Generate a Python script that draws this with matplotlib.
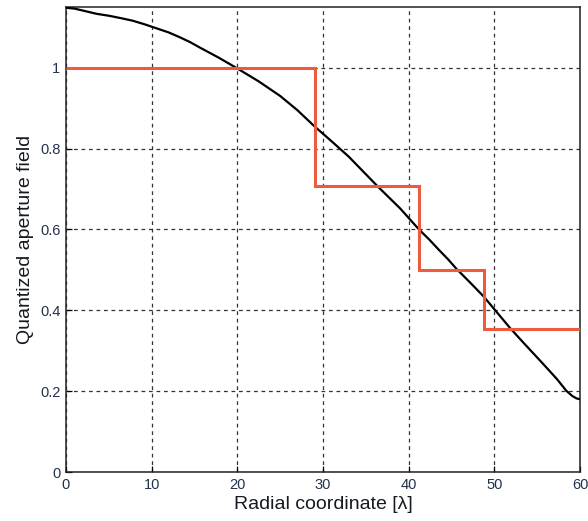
import matplotlib

matplotlib.use("Agg")
import matplotlib.pyplot as plt

# Continuous aperture field
radius = [0, 1.0, 2.0, 3.6, 5.1, 6.5, 7.8, 9.2, 10.6, 12.0, 13.3, 14.5,
          15.6, 17.8, 20, 22.5, 25, 27, 29, 31, 33, 34.7, 36.4, 37.7,
          39, 40.1, 41.2, 42.4, 43.5, 44.6, 45.6, 47.2, 48.8, 50.3, 51.8,
          53, 54, 55.1, 56.1, 57.3, 58.4, 59.1, 59.6, 60]
field = [1.148, 1.146, 1.141, 1.133, 1.128, 1.122, 1.116, 1.107, 1.097,
         1.087, 1.075, 1.063, 1.050, 1.025, 0.998, 0.966, 0.930, 0.895,
         0.855, 0.818, 0.780, 0.743, 0.706, 0.679, 0.652, 0.626, 0.600,
         0.575, 0.550, 0.526, 0.502, 0.468, 0.433, 0.395, 0.357, 0.329,
         0.306, 0.281, 0.258, 0.230, 0.201, 0.188, 0.182, 0.180]

# Quantized (stepped) field: zone edges and levels
step_edges = [0, 29.05, 41.2, 48.8, 60]
step_levels = [1.0, 0.707, 0.5, 0.354]

xticks = [0, 10, 20, 30, 40, 50, 60]
yticks = [0, 0.2, 0.4, 0.6, 0.8, 1.0]
ytick_labels = ["0", "0.2", "0.4", "0.6", "0.8", "1"]

RED = "#ee5a3c"
TICK = "#223248"
TEXT = "#151a22"

plt.rcParams["font.family"] = ["Liberation Sans", "DejaVu Sans"]

fig = plt.figure(figsize=(5.88, 5.21), dpi=100)
ax = fig.add_axes([0.1122, 0.094, 0.8742, 0.8926])

ax.plot(radius, field, color="black", lw=1.6, zorder=3)
ax.stairs(step_levels, step_edges, color=RED, lw=2.2, baseline=None, zorder=4)

ax.set_xlim(0, 60)
ax.set_ylim(0, 1.15)
ax.set_xticks(xticks)
ax.set_yticks(yticks)
ax.set_yticklabels(ytick_labels)
ax.grid(True, color="#333333", lw=0.9, linestyle=(0, (3, 3)))
ax.tick_params(direction="in", length=4, width=0.9, labelsize=10.5,
               labelcolor=TICK, top=False, right=False, pad=4)
for s in ax.spines.values():
    s.set_color("#222222")
    s.set_linewidth(1.1)

ax.set_xlabel("Radial coordinate [λ]", fontsize=14, color=TEXT, labelpad=3)
ax.set_ylabel("Quantized aperture field", fontsize=14, color=TEXT, labelpad=4)

fig.savefig("out.png", dpi=100, facecolor="white")
